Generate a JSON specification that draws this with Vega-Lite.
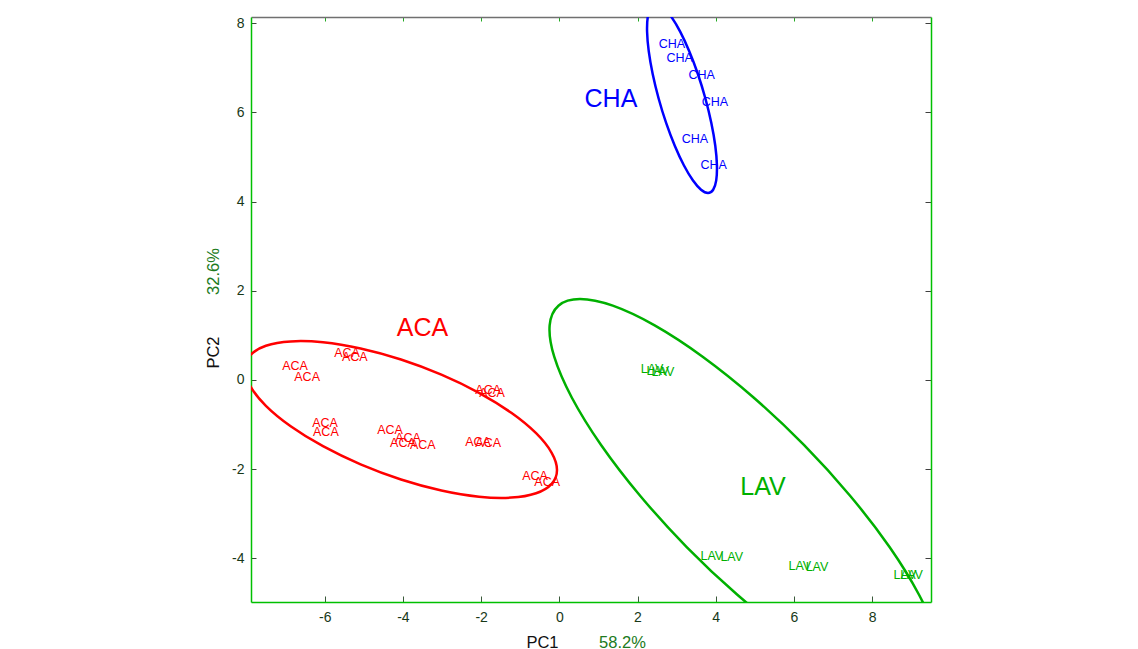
{
  "$schema": "https://vega.github.io/schema/vega-lite/v6.json",
  "width": 680,
  "height": 585,
  "autosize": "none",
  "padding": {"left": 251, "top": 17, "right": 207, "bottom": 47},
  "background": "white",
  "config": {
    "view": {"stroke": null},
    "font": "Liberation Sans",
    "axis": {"grid": false, "labelFont": "Liberation Sans", "titleFont": "Liberation Sans", "labelFlush": false, "labelOverlap": false}
  },
  "datasets": {
    "ellipses": [
      {"group": "ACA", "i": 0, "x": -0.059, "y": -2.018},
      {"group": "ACA", "i": 1, "x": -0.195, "y": -2.328},
      {"group": "ACA", "i": 2, "x": -0.594, "y": -2.539},
      {"group": "ACA", "i": 3, "x": -1.228, "y": -2.637},
      {"group": "ACA", "i": 4, "x": -2.054, "y": -2.617},
      {"group": "ACA", "i": 5, "x": -3.016, "y": -2.478},
      {"group": "ACA", "i": 6, "x": -4.049, "y": -2.231},
      {"group": "ACA", "i": 7, "x": -5.082, "y": -1.892},
      {"group": "ACA", "i": 8, "x": -6.044, "y": -1.485},
      {"group": "ACA", "i": 9, "x": -6.870, "y": -1.037},
      {"group": "ACA", "i": 10, "x": -7.504, "y": -0.579},
      {"group": "ACA", "i": 11, "x": -7.903, "y": -0.140},
      {"group": "ACA", "i": 12, "x": -8.039, "y": 0.246},
      {"group": "ACA", "i": 13, "x": -7.903, "y": 0.556},
      {"group": "ACA", "i": 14, "x": -7.504, "y": 0.767},
      {"group": "ACA", "i": 15, "x": -6.870, "y": 0.865},
      {"group": "ACA", "i": 16, "x": -6.044, "y": 0.845},
      {"group": "ACA", "i": 17, "x": -5.082, "y": 0.706},
      {"group": "ACA", "i": 18, "x": -4.049, "y": 0.459},
      {"group": "ACA", "i": 19, "x": -3.016, "y": 0.120},
      {"group": "ACA", "i": 20, "x": -2.054, "y": -0.287},
      {"group": "ACA", "i": 21, "x": -1.228, "y": -0.735},
      {"group": "ACA", "i": 22, "x": -0.594, "y": -1.193},
      {"group": "ACA", "i": 23, "x": -0.195, "y": -1.632},
      {"group": "CHA", "i": 0, "x": 3.803, "y": 4.193},
      {"group": "CHA", "i": 1, "x": 3.935, "y": 4.265},
      {"group": "CHA", "i": 2, "x": 4.013, "y": 4.477},
      {"group": "CHA", "i": 3, "x": 4.031, "y": 4.814},
      {"group": "CHA", "i": 4, "x": 3.989, "y": 5.252},
      {"group": "CHA", "i": 5, "x": 3.888, "y": 5.763},
      {"group": "CHA", "i": 6, "x": 3.736, "y": 6.312},
      {"group": "CHA", "i": 7, "x": 3.544, "y": 6.861},
      {"group": "CHA", "i": 8, "x": 3.323, "y": 7.372},
      {"group": "CHA", "i": 9, "x": 3.091, "y": 7.810},
      {"group": "CHA", "i": 10, "x": 2.861, "y": 8.147},
      {"group": "CHA", "i": 11, "x": 2.651, "y": 8.359},
      {"group": "CHA", "i": 12, "x": 2.473, "y": 8.431},
      {"group": "CHA", "i": 13, "x": 2.341, "y": 8.359},
      {"group": "CHA", "i": 14, "x": 2.263, "y": 8.147},
      {"group": "CHA", "i": 15, "x": 2.245, "y": 7.810},
      {"group": "CHA", "i": 16, "x": 2.287, "y": 7.372},
      {"group": "CHA", "i": 17, "x": 2.388, "y": 6.861},
      {"group": "CHA", "i": 18, "x": 2.540, "y": 6.312},
      {"group": "CHA", "i": 19, "x": 2.732, "y": 5.763},
      {"group": "CHA", "i": 20, "x": 2.953, "y": 5.252},
      {"group": "CHA", "i": 21, "x": 3.185, "y": 4.814},
      {"group": "CHA", "i": 22, "x": 3.415, "y": 4.477},
      {"group": "CHA", "i": 23, "x": 3.625, "y": 4.265},
      {"group": "LAV", "i": 0, "x": 0.529, "y": 1.816},
      {"group": "LAV", "i": 1, "x": 1.368, "y": 1.666},
      {"group": "LAV", "i": 2, "x": 2.439, "y": 1.224},
      {"group": "LAV", "i": 3, "x": 3.666, "y": 0.522},
      {"group": "LAV", "i": 4, "x": 4.968, "y": -0.392},
      {"group": "LAV", "i": 5, "x": 6.256, "y": -1.457},
      {"group": "LAV", "i": 6, "x": 7.442, "y": -2.601},
      {"group": "LAV", "i": 7, "x": 8.446, "y": -3.745},
      {"group": "LAV", "i": 8, "x": 9.196, "y": -4.810},
      {"group": "LAV", "i": 9, "x": 9.644, "y": -5.724},
      {"group": "LAV", "i": 10, "x": 9.761, "y": -6.426},
      {"group": "LAV", "i": 11, "x": 9.536, "y": -6.868},
      {"group": "LAV", "i": 12, "x": 8.985, "y": -7.018},
      {"group": "LAV", "i": 13, "x": 8.146, "y": -6.868},
      {"group": "LAV", "i": 14, "x": 7.075, "y": -6.426},
      {"group": "LAV", "i": 15, "x": 5.848, "y": -5.724},
      {"group": "LAV", "i": 16, "x": 4.546, "y": -4.810},
      {"group": "LAV", "i": 17, "x": 3.258, "y": -3.745},
      {"group": "LAV", "i": 18, "x": 2.072, "y": -2.601},
      {"group": "LAV", "i": 19, "x": 1.068, "y": -1.457},
      {"group": "LAV", "i": 20, "x": 0.318, "y": -0.392},
      {"group": "LAV", "i": 21, "x": -0.130, "y": 0.522},
      {"group": "LAV", "i": 22, "x": -0.247, "y": 1.224},
      {"group": "LAV", "i": 23, "x": -0.022, "y": 1.666}
    ],
    "labels": [
      {"group": "ACA", "x": -6.76, "y": 0.31},
      {"group": "ACA", "x": -6.45, "y": 0.07},
      {"group": "ACA", "x": -5.43, "y": 0.61},
      {"group": "ACA", "x": -5.23, "y": 0.52},
      {"group": "ACA", "x": -1.82, "y": -0.22},
      {"group": "ACA", "x": -1.72, "y": -0.29},
      {"group": "ACA", "x": -5.99, "y": -0.96},
      {"group": "ACA", "x": -5.97, "y": -1.17},
      {"group": "ACA", "x": -4.33, "y": -1.12},
      {"group": "ACA", "x": -3.87, "y": -1.30},
      {"group": "ACA", "x": -4.00, "y": -1.41},
      {"group": "ACA", "x": -3.49, "y": -1.46},
      {"group": "ACA", "x": -2.08, "y": -1.39},
      {"group": "ACA", "x": -1.82, "y": -1.41},
      {"group": "ACA", "x": -0.62, "y": -2.15},
      {"group": "ACA", "x": -0.31, "y": -2.29},
      {"group": "CHA", "x": 2.88, "y": 7.53},
      {"group": "CHA", "x": 3.08, "y": 7.22},
      {"group": "CHA", "x": 3.64, "y": 6.84},
      {"group": "CHA", "x": 3.98, "y": 6.23},
      {"group": "CHA", "x": 3.47, "y": 5.40},
      {"group": "CHA", "x": 3.95, "y": 4.82},
      {"group": "LAV", "x": 2.37, "y": 0.25},
      {"group": "LAV", "x": 2.52, "y": 0.20},
      {"group": "LAV", "x": 2.65, "y": 0.18},
      {"group": "LAV", "x": 3.90, "y": -3.95},
      {"group": "LAV", "x": 4.41, "y": -3.97},
      {"group": "LAV", "x": 6.15, "y": -4.17},
      {"group": "LAV", "x": 6.59, "y": -4.19},
      {"group": "LAV", "x": 8.84, "y": -4.37},
      {"group": "LAV", "x": 9.01, "y": -4.37}
    ],
    "groups": [
      {"group": "ACA", "x": -3.50, "y": 1.17},
      {"group": "CHA", "x": 1.32, "y": 6.31},
      {"group": "LAV", "x": 5.21, "y": -2.40}
    ]
  },
  "layer": [
    {
      "data": {"name": "ellipses"},
      "mark": {"type": "line", "interpolate": "cardinal-closed", "strokeWidth": 2.5, "clip": true},
      "encoding": {
        "x": {"field": "x", "type": "quantitative", "scale": {"domain": [-7.885, 9.506], "nice": false, "zero": false},
          "axis": {"orient": "top", "values": [-6, -4, -2, 0, 2, 4, 6, 8], "labels": false, "title": null, "domainColor": "#707070", "domainWidth": 1.5, "tickColor": "#22aa22", "tickSize": -4}},
        "y": {"field": "y", "type": "quantitative", "scale": {"domain": [-4.978, 8.139], "nice": false, "zero": false},
          "axis": {"orient": "right", "values": [-4, -2, 0, 2, 4, 6, 8], "labels": false, "title": null, "domainColor": "#00c000", "domainWidth": 1.5, "tickColor": "#404040", "tickSize": -6}},
        "color": {"field": "group", "type": "nominal", "scale": {"domain": ["ACA", "CHA", "LAV"], "range": ["#ff0000", "#0000ff", "#00b000"]}, "legend": null},
        "order": {"field": "i", "type": "quantitative"}
      }
    },
    {
      "data": {"name": "labels"},
      "mark": {"type": "text", "fontSize": 12.5, "align": "center", "baseline": "middle", "font": "Liberation Sans"},
      "encoding": {
        "x": {"field": "x", "type": "quantitative",
          "axis": {"orient": "bottom", "values": [-6, -4, -2, 0, 2, 4, 6, 8], "labelExpr": "'' + datum.value", "labelFontSize": 14, "labelColor": "#183818", "labelPadding": 14, "domainColor": "#00c000", "domainWidth": 1.5, "tickColor": "#3a5a3a", "tickSize": -6,
            "title": "PC1", "titleFontSize": 16.5, "titleFontWeight": "normal", "titleColor": "#111111", "titleX": 291, "titleY": 40, "titleAlign": "center", "titleBaseline": "middle"}},
        "y": {"field": "y", "type": "quantitative",
          "axis": {"orient": "left", "values": [-4, -2, 0, 2, 4, 6, 8], "labelExpr": "'' + datum.value", "labelFontSize": 14, "labelColor": "#183818", "labelPadding": 12, "domainColor": "#00c000", "domainWidth": 1.5, "tickColor": "#3a4a3a", "tickSize": -5,
            "title": "PC2", "titleFontSize": 16.5, "titleFontWeight": "normal", "titleColor": "#111111", "titleX": -38, "titleY": 335, "titleAlign": "center", "titleBaseline": "middle", "titleAngle": -90}},
        "text": {"field": "group"},
        "color": {"field": "group", "type": "nominal", "legend": null}
      }
    },
    {
      "data": {"name": "groups"},
      "mark": {"type": "text", "fontSize": 25, "align": "center", "baseline": "middle", "font": "Liberation Sans"},
      "encoding": {
        "x": {"field": "x", "type": "quantitative",
          "axis": {"orient": "bottom", "labels": false, "ticks": false, "domain": false,
            "title": "58.2%", "titleFontSize": 16.5, "titleFontWeight": "normal", "titleColor": "#207a20", "titleX": 371, "titleY": 40, "titleAlign": "center", "titleBaseline": "middle"}},
        "y": {"field": "y", "type": "quantitative",
          "axis": {"orient": "left", "labels": false, "ticks": false, "domain": false,
            "title": "32.6%", "titleFontSize": 16.5, "titleFontWeight": "normal", "titleColor": "#207a20", "titleX": -38, "titleY": 254, "titleAlign": "center", "titleBaseline": "middle", "titleAngle": -90}},
        "text": {"field": "group"},
        "color": {"field": "group", "type": "nominal", "legend": null}
      }
    }
  ],
  "resolve": {"axis": {"x": "independent", "y": "independent"}}
}
